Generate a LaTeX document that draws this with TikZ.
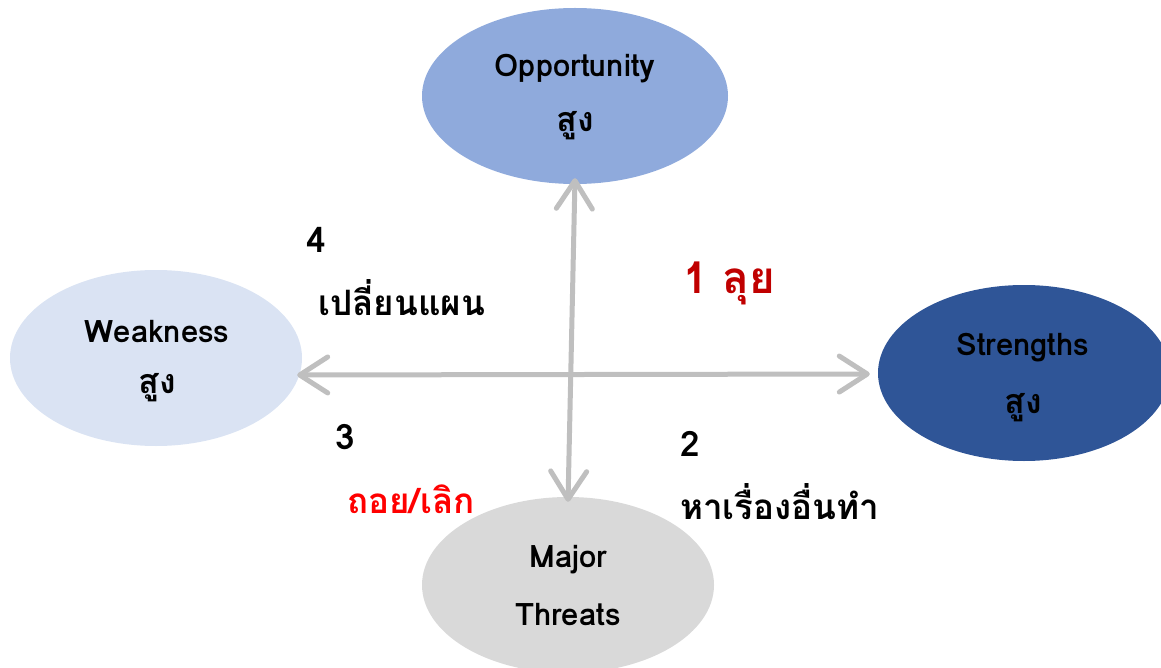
\documentclass[tikz,border=0pt]{standalone}
\usepackage{fontspec}
\setmainfont{Loma}[Script=Thai]
\usetikzlibrary{shapes.geometric,arrows.meta}
\definecolor{oppc}{HTML}{8FAADC}
\definecolor{weakc}{HTML}{DAE3F3}
\definecolor{strc}{HTML}{2F5597}
\definecolor{thrc}{HTML}{D9D9D9}
\definecolor{arrc}{HTML}{BFBFBF}
\definecolor{darkred}{HTML}{C00000}
\definecolor{brightred}{HTML}{FF0000}
\tikzset{
  blob/.style={ellipse, inner sep=0pt},
  intext/.style={anchor=base, font=\bfseries\fontsize{31}{36}\selectfont, inner sep=0pt},
  inthai/.style={anchor=base, font=\bfseries\fontsize{34}{40}\selectfont, inner sep=0pt},
  lbl/.style={anchor=base west, font=\bfseries\fontsize{35}{42}\selectfont, inner sep=0pt},
  bigl/.style={anchor=base west, font=\bfseries\fontsize{44}{52}\selectfont, inner sep=0pt},
  arr/.style={draw=arrc, line width=5pt, line cap=round,
    {Straight Barb[length=28pt,width=36pt,round]}-{Straight Barb[length=28pt,width=36pt,round]}}
}
\begin{document}
\begin{tikzpicture}[x=1pt,y=-1pt]
\useasboundingbox (0,0) rectangle (1161,668);
\begin{scope}
\clip (0,0) rectangle (1161,668);
\node[blob, fill=oppc, minimum width=306pt, minimum height=176pt] (opp) at (575,96) {};
\node[blob, fill=weakc, minimum width=292pt, minimum height=176pt] (weak) at (156,358) {};
\node[blob, fill=strc, minimum width=292pt, minimum height=176pt] (str) at (1024,373) {};
\node[blob, fill=thrc, minimum width=292pt, minimum height=176pt] (thr) at (568,585) {};
\end{scope}
% connectors
\draw[arr] ([yshift=6pt]opp.south) -- ([yshift=-5pt]thr.north);
\draw[arr] ([shift={(-5pt,-17pt)}]weak.east) -- ([shift={(-8pt,-1pt)}]str.west);
% ellipse texts
\node[intext] (t1) at (575,77) {Opportunity};
\node[inthai] (t2) at (575,132) {สูง};
\node[intext] (t3) at (157,342) {Weakness};
\node[inthai] (t4) at (157,393) {สูง};
\node[intext] (t5) at (1023,355) {Strengths};
\node[inthai] (t6) at (1023,413) {สูง};
\node[intext] (t7) at (568,567) {Major};
\node[intext] (t8) at (568,625) {Threats};
% quadrant labels
\node[lbl] (q4n) at (306,252) {4};
\node[lbl] (q4t) at (318,315) {เปลี่ยนแผน};
\node[bigl, text=darkred] (q1) at (683,293) {1 ลุย};
\node[lbl] (q3n) at (335,449) {3};
\node[lbl, text=brightred] (q3t) at (347,513) {ถอย/เลิก};
\node[lbl] (q2n) at (680,456) {2};
\node[lbl] (q2t) at (680,519) {หาเรื่องอื่นทำ};
\end{tikzpicture}
\end{document}
